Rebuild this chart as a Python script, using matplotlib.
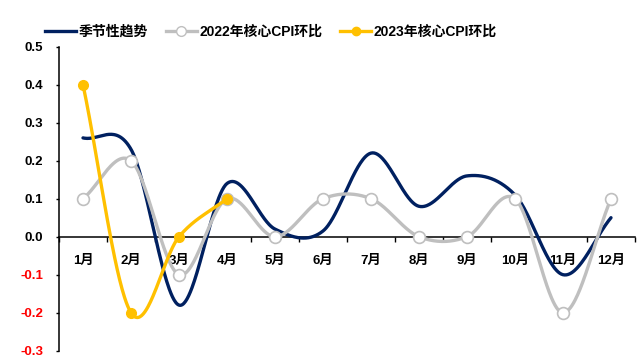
import numpy as np
import matplotlib
matplotlib.use("Agg")
import matplotlib.pyplot as plt
from matplotlib.lines import Line2D

months = ["1月", "2月", "3月", "4月", "5月", "6月", "7月", "8月", "9月", "10月", "11月", "12月"]
seasonal = [0.26, 0.23, -0.18, 0.14, 0.02, 0.015, 0.22, 0.08, 0.16, 0.11, -0.10, 0.05]
cpi_2022 = [0.1, 0.2, -0.1, 0.1, 0.0, 0.1, 0.1, 0.0, 0.0, 0.1, -0.2, 0.1]
cpi_2023 = [0.4, -0.2, 0.0, 0.1]
yticks = [-0.3, -0.2, -0.1, 0.0, 0.1, 0.2, 0.3, 0.4, 0.5]

NAVY = "#002060"
GRAY = "#BFBFBF"
GOLD = "#FFC000"

plt.rcParams['font.family'] = ['Liberation Sans', 'Noto Sans CJK SC', 'DejaVu Sans']
plt.rcParams['font.weight'] = 'bold'


def smooth(y, n=60):
    """Catmull-Rom style smoothing (like spreadsheet smooth lines)."""
    y = np.asarray(y, float)
    x = np.arange(1, len(y) + 1, dtype=float)
    m = np.zeros_like(y)
    for i in range(len(y)):
        if i == 0:
            m[i] = y[1] - y[0]
        elif i == len(y) - 1:
            m[i] = y[-1] - y[-2]
        else:
            m[i] = (y[i + 1] - y[i - 1]) / 2
    xs, ys = [], []
    t = np.linspace(0, 1, n)
    h00 = 2 * t**3 - 3 * t**2 + 1
    h10 = t**3 - 2 * t**2 + t
    h01 = -2 * t**3 + 3 * t**2
    h11 = t**3 - t**2
    for i in range(len(y) - 1):
        xs.append(x[i] + t)
        ys.append(h00 * y[i] + h10 * m[i] + h01 * y[i + 1] + h11 * m[i + 1])
    return np.concatenate(xs), np.concatenate(ys)


fig = plt.figure(figsize=(6.43, 3.58), dpi=100)
ax = fig.add_axes([59 / 643, 1 - 350.7 / 358, 576 / 643, 304 / 358])

lw = 2.4
xs, ys = smooth(seasonal)
ax.plot(xs, ys, color=NAVY, lw=lw, solid_capstyle='round', zorder=3)

xs, ys = smooth(cpi_2022)
ax.plot(xs, ys, color=GRAY, lw=lw, solid_capstyle='round', zorder=4)
ax.plot(np.arange(1, len(cpi_2022) + 1), cpi_2022, ls='none', marker='o', ms=8.5,
        mfc='white', mec=GRAY, mew=1.2, zorder=5)

xs, ys = smooth(cpi_2023)
ax.plot(xs, ys, color=GOLD, lw=lw, solid_capstyle='round', zorder=6)
ax.plot(np.arange(1, len(cpi_2023) + 1), cpi_2023, ls='none', marker='o', ms=7,
        mfc=GOLD, mec=GOLD, zorder=7)

ax.set_xlim(0.5, 12.5)
ax.set_ylim(-0.3, 0.5)

for s in ['top', 'right']:
    ax.spines[s].set_visible(False)
ax.spines['bottom'].set_position(('data', 0))
ax.spines['bottom'].set_linewidth(1.1)
ax.spines['left'].set_linewidth(1.1)

ax.set_xticks(np.arange(0.5, 12.6, 1.0))
ax.set_xticklabels([])
ax.set_xticks(np.arange(1, 13), minor=True)
ax.set_xticklabels(months, minor=True, fontsize=9.5, fontweight='bold')
ax.tick_params(axis='x', which='major', direction='out', length=3.6, width=1.0)
ax.tick_params(axis='x', which='minor', length=0, pad=13)

ax.set_yticks(yticks)
ax.set_yticklabels([f"{v:.1f}" for v in yticks], fontsize=9.5, fontweight='bold')
ax.tick_params(axis='y', direction='out', length=2.5, width=1.0, pad=9)
for lab, v in zip(ax.get_yticklabels(), yticks):
    lab.set_color('red' if v < 0 else 'black')

handles = [
    Line2D([], [], color=NAVY, lw=lw),
    Line2D([], [], color=GRAY, lw=lw, marker='o', ms=7, mfc='white', mec=GRAY),
    Line2D([], [], color=GOLD, lw=lw, marker='o', ms=6, mfc=GOLD, mec=GOLD),
]
labels = ["季节性趋势", "2022年核心CPI环比", "2023年核心CPI环比"]
fig.legend(handles, labels, loc='center', bbox_to_anchor=(271 / 643, 1 - 32 / 358),
           ncol=3, frameon=False, prop={'size': 10, 'weight': 'bold'},
           handlelength=2.2, handletextpad=0.2, columnspacing=1.3)

fig.savefig("out.png", dpi=100)
